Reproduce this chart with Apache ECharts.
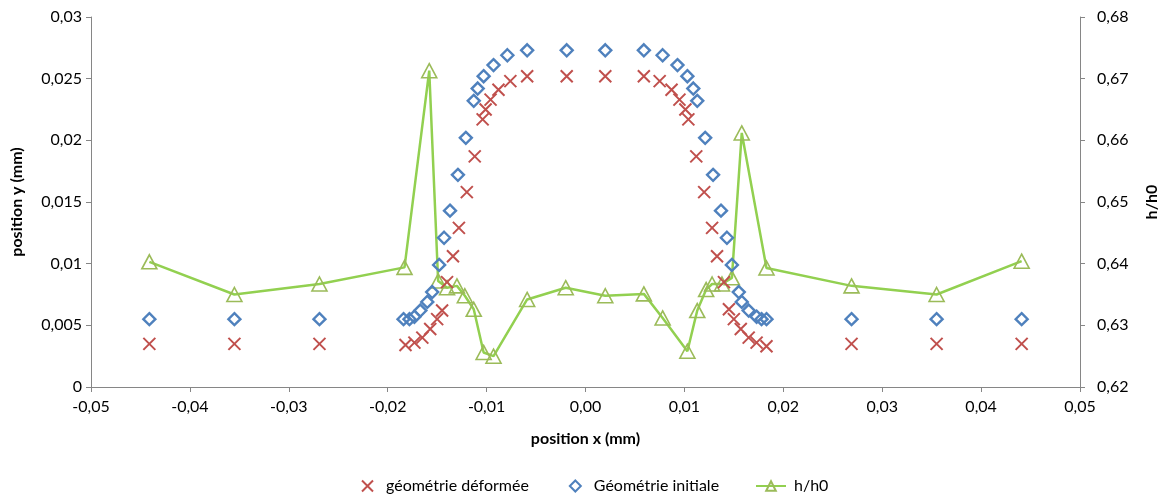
<!DOCTYPE html>
<html>
<head>
<meta charset="utf-8">
<script src="https://cdn.jsdelivr.net/npm/echarts@6/dist/echarts.min.js"></script>
<style>
  html, body { margin: 0; padding: 0; background: #fff; }
  #chart { width: 1168px; height: 500px; }
</style>
</head>
<body>
<div id="chart"></div>
<script>
  // géométrie déformée
  var xDeformed = [-0.0441, -0.0355, -0.0269, -0.0182, -0.0173, -0.0165, -0.0157, -0.0150, -0.0145, -0.0140, -0.0134,
    -0.0128, -0.0120, -0.0112, -0.0104, -0.0101, -0.0096, -0.0088, -0.0076, -0.0059, -0.0019,
    0.0020, 0.0059, 0.0075, 0.0087, 0.0095, 0.0101, 0.0104, 0.0112, 0.0120, 0.0128,
    0.0133, 0.0140, 0.0145, 0.0150, 0.0157, 0.0165, 0.0173, 0.0183, 0.0269, 0.0355, 0.0441];
  var yDeformed = [0.0035, 0.0035, 0.0035, 0.0034, 0.0036, 0.0040, 0.0047, 0.0055, 0.0062, 0.0085, 0.0106,
    0.0129, 0.0158, 0.0187, 0.0217, 0.0225, 0.0233, 0.0241, 0.0248, 0.0252, 0.0252,
    0.0252, 0.0252, 0.0248, 0.0241, 0.0233, 0.0225, 0.0217, 0.0187, 0.0158, 0.0129,
    0.0106, 0.0085, 0.0063, 0.0055, 0.0047, 0.0040, 0.0036, 0.0033, 0.0035, 0.0035, 0.0035];

  // Géométrie initiale
  var xInitial = [-0.0441, -0.0355, -0.0269, -0.0184, -0.0178, -0.0173, -0.0167, -0.0160, -0.0155, -0.0148, -0.0143,
    -0.0137, -0.0129, -0.0121, -0.0113, -0.0109, -0.0103, -0.0093, -0.0079, -0.0059, -0.0019,
    0.0020, 0.0059, 0.0078, 0.0093, 0.0103, 0.0109, 0.0113, 0.0121, 0.0129, 0.0137,
    0.0143, 0.0148, 0.0155, 0.0158, 0.0165, 0.0173, 0.0178, 0.0183, 0.0269, 0.0355, 0.0441];
  var yInitial = [0.0055, 0.0055, 0.0055, 0.0055, 0.0055, 0.0057, 0.0062, 0.0069, 0.0077, 0.0099, 0.0121,
    0.0143, 0.0172, 0.0202, 0.0232, 0.0242, 0.0252, 0.0261, 0.0269, 0.0273, 0.0273,
    0.0273, 0.0273, 0.0269, 0.0261, 0.0252, 0.0242, 0.0232, 0.0202, 0.0172, 0.0143,
    0.0121, 0.0099, 0.0077, 0.0069, 0.0062, 0.0057, 0.0055, 0.0055, 0.0055, 0.0055, 0.0055];

  // h/h0 (axe de droite)
  var xRatio = [-0.0441, -0.0355, -0.0269, -0.0183, -0.0158, -0.0149, -0.0140, -0.0130, -0.0122, -0.0113, -0.0103,
    -0.0093, -0.0059, -0.0020, 0.0020, 0.0059, 0.0078, 0.0103, 0.0113, 0.0122, 0.0128,
    0.0138, 0.0148, 0.0158, 0.0183, 0.0269, 0.0355, 0.0441];
  var ratio = [0.6403, 0.6350, 0.6367, 0.6394, 0.6713, 0.6372, 0.6361, 0.6364, 0.6348, 0.6326, 0.6256,
    0.6250, 0.6342, 0.6361, 0.6348, 0.6351, 0.6312, 0.6258, 0.6324, 0.6358, 0.6367,
    0.6367, 0.6377, 0.6612, 0.6393, 0.6364, 0.6350, 0.6404];

  var xTicks = { min: -0.05, max: 0.05, interval: 0.01 };
  var yTicks = { min: 0, max: 0.03, interval: 0.005 };
  var rTicks = { min: 0.62, max: 0.68, interval: 0.01 };

  function zip(xs, ys) {
    return xs.map(function (x, i) { return [x, ys[i]]; });
  }
  function comma(v) { return String(v).replace('.', ','); }

  var font = 'Lato, "Open Sans", sans-serif';
  var axisGrey = '#868686';
  var crossPath = 'path://M0,0L10,10M0,10L10,0';
  var legendText = { fontFamily: font, fontSize: 16, color: '#000', padding: [0, 0, 0, 8] };

  var chart = echarts.init(document.getElementById('chart'));

  var option = {
    animation: false,
    textStyle: { fontFamily: font },
    grid: { left: 91, right: 76, top: 17, bottom: 113 },
    legend: [
      {
        bottom: 1,
        left: 356,
        itemGap: 40,
        itemWidth: 11,
        itemHeight: 11,
        textStyle: legendText,
        data: ['géométrie déformée', 'Géométrie initiale'],
      },
      {
        bottom: 1,
        left: 750,
        itemWidth: 30,
        itemHeight: 12,
        textStyle: { fontFamily: font, fontSize: 16, color: '#000', padding: [0, 0, 0, 3] },
        data: ['h/h0'],
      },
    ],
    xAxis: {
      type: 'value',
      min: xTicks.min,
      max: xTicks.max,
      interval: xTicks.interval,
      name: 'position x (mm)',
      nameLocation: 'middle',
      nameGap: 44,
      nameTextStyle: { fontWeight: 'bold', fontSize: 16, color: '#000', fontFamily: font },
      axisLine: { onZero: false, lineStyle: { color: axisGrey } },
      axisTick: { show: true, length: 5, lineStyle: { color: axisGrey } },
      splitLine: { show: false },
      axisLabel: {
        fontSize: 16, color: '#000', margin: 12,
        formatter: function (v) { return comma(v.toFixed(2)); },
      },
    },
    yAxis: [
      {
        type: 'value',
        min: yTicks.min,
        max: yTicks.max,
        interval: yTicks.interval,
        name: 'position y (mm)',
        nameLocation: 'middle',
        nameGap: 66,
        nameTextStyle: { fontWeight: 'bold', fontSize: 16, color: '#000', fontFamily: font },
        axisLine: { show: true, onZero: false, lineStyle: { color: axisGrey } },
        axisTick: { show: true, length: 5, lineStyle: { color: axisGrey } },
        splitLine: { show: false },
        axisLabel: {
          fontSize: 16, color: '#000', margin: 9,
          formatter: function (v) { return comma(parseFloat(v.toFixed(3))); },
        },
      },
      {
        type: 'value',
        position: 'right',
        min: rTicks.min,
        max: rTicks.max,
        interval: rTicks.interval,
        name: 'h/h0',
        nameLocation: 'middle',
        nameGap: 64,
        nameTextStyle: { fontWeight: 'bold', fontSize: 16, color: '#000', fontFamily: font },
        axisLine: { show: true, onZero: false, lineStyle: { color: axisGrey } },
        axisTick: { show: true, length: 5, lineStyle: { color: axisGrey } },
        splitLine: { show: false },
        axisLabel: {
          fontSize: 16, color: '#000', margin: 17,
          formatter: function (v) { return comma(v.toFixed(2)); },
        },
      },
    ],
    series: [
      {
        name: 'géométrie déformée',
        type: 'scatter',
        yAxisIndex: 0,
        symbol: crossPath,
        symbolSize: 12,
        itemStyle: { color: 'rgba(0,0,0,0)', borderColor: '#C0504D', borderWidth: 2, opacity: 1 },
        data: zip(xDeformed, yDeformed),
        z: 3,
      },
      {
        name: 'Géométrie initiale',
        type: 'scatter',
        yAxisIndex: 0,
        symbol: 'diamond',
        symbolSize: 12,
        itemStyle: { color: 'rgba(0,0,0,0)', borderColor: '#4F81BD', borderWidth: 2.4, opacity: 1 },
        data: zip(xInitial, yInitial),
        z: 3,
      },
      {
        name: 'h/h0',
        type: 'line',
        yAxisIndex: 1,
        symbol: 'triangle',
        symbolSize: [15, 14],
        showAllSymbol: true,
        lineStyle: { color: '#92D050', width: 2.5 },
        itemStyle: { color: 'rgba(0,0,0,0)', borderColor: '#9BBB59', borderWidth: 1.6, opacity: 1 },
        data: zip(xRatio, ratio),
        z: 2,
      },
    ],
  };

  chart.setOption(option);
</script>
</body>
</html>
